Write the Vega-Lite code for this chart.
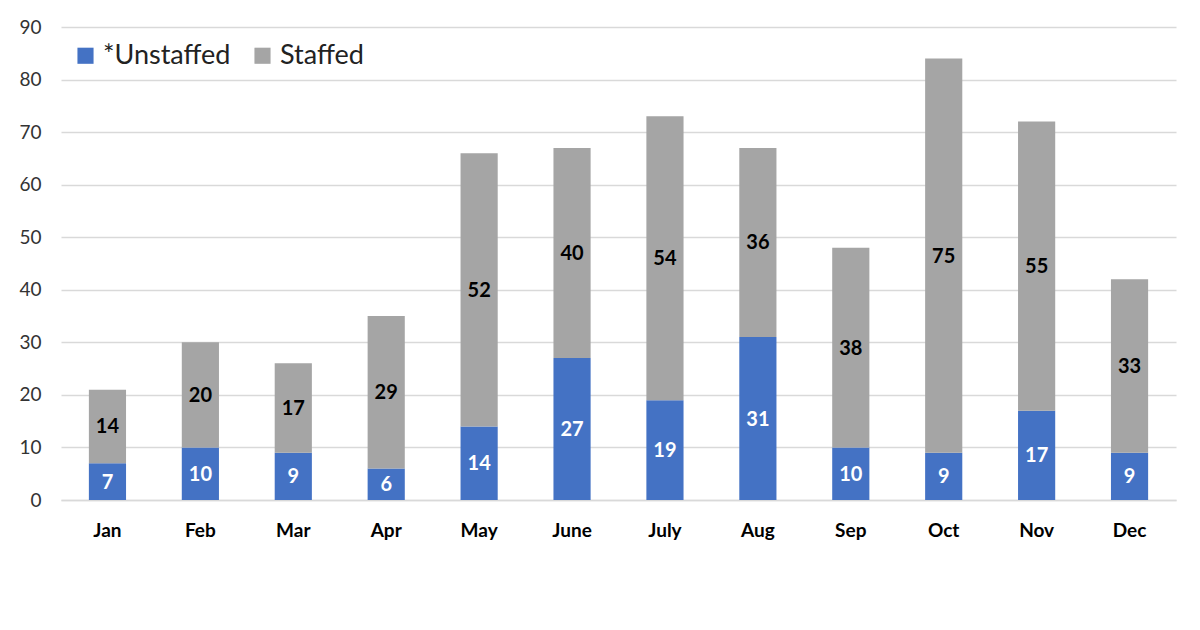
{
  "$schema": "https://vega.github.io/schema/vega-lite/v6.json",
  "autosize": "none",
  "width": 1115,
  "height": 473,
  "padding": {"left": 61, "top": 27, "right": 24, "bottom": 130},
  "background": "white",
  "config": {
    "font": "Lato",
    "view": {"stroke": null},
    "axis": {"labelFont": "Lato", "titleFont": "Lato"}
  },
  "data": {
    "values": [
      {"month": "Jan", "type": "*Unstaffed", "value": 7, "ord": 1},
      {"month": "Jan", "type": "Staffed", "value": 14, "ord": 2},
      {"month": "Feb", "type": "*Unstaffed", "value": 10, "ord": 1},
      {"month": "Feb", "type": "Staffed", "value": 20, "ord": 2},
      {"month": "Mar", "type": "*Unstaffed", "value": 9, "ord": 1},
      {"month": "Mar", "type": "Staffed", "value": 17, "ord": 2},
      {"month": "Apr", "type": "*Unstaffed", "value": 6, "ord": 1},
      {"month": "Apr", "type": "Staffed", "value": 29, "ord": 2},
      {"month": "May", "type": "*Unstaffed", "value": 14, "ord": 1},
      {"month": "May", "type": "Staffed", "value": 52, "ord": 2},
      {"month": "June", "type": "*Unstaffed", "value": 27, "ord": 1},
      {"month": "June", "type": "Staffed", "value": 40, "ord": 2},
      {"month": "July", "type": "*Unstaffed", "value": 19, "ord": 1},
      {"month": "July", "type": "Staffed", "value": 54, "ord": 2},
      {"month": "Aug", "type": "*Unstaffed", "value": 31, "ord": 1},
      {"month": "Aug", "type": "Staffed", "value": 36, "ord": 2},
      {"month": "Sep", "type": "*Unstaffed", "value": 10, "ord": 1},
      {"month": "Sep", "type": "Staffed", "value": 38, "ord": 2},
      {"month": "Oct", "type": "*Unstaffed", "value": 9, "ord": 1},
      {"month": "Oct", "type": "Staffed", "value": 75, "ord": 2},
      {"month": "Nov", "type": "*Unstaffed", "value": 17, "ord": 1},
      {"month": "Nov", "type": "Staffed", "value": 55, "ord": 2},
      {"month": "Dec", "type": "*Unstaffed", "value": 9, "ord": 1},
      {"month": "Dec", "type": "Staffed", "value": 33, "ord": 2}
    ]
  },
  "transform": [
    {"stack": "value", "groupby": ["month"], "sort": [{"field": "ord", "order": "ascending"}], "as": ["v0", "v1"]},
    {"calculate": "(datum.v0 + datum.v1) / 2", "as": "vmid"}
  ],
  "encoding": {
    "x": {
      "field": "month",
      "type": "nominal",
      "sort": null,
      "scale": {"paddingInner": 0.6, "paddingOuter": 0.3},
      "axis": {
        "title": null,
        "labelAngle": 0,
        "labelFontSize": 19,
        "labelFontWeight": "bold",
        "labelColor": "#000000",
        "labelPadding": 21,
        "ticks": false,
        "domain": true,
        "domainColor": "#d9d9d9",
        "domainWidth": 1.5
      }
    }
  },
  "layer": [
    {
      "mark": {"type": "bar"},
      "encoding": {
        "y": {
          "field": "v0",
          "type": "quantitative",
          "scale": {"domain": [0, 90]},
          "axis": {
            "title": null,
            "values": [0, 10, 20, 30, 40, 50, 60, 70, 80, 90],
            "labelFontSize": 19,
            "labelColor": "#333333",
            "labelPadding": 20,
            "ticks": false,
            "domain": false,
            "gridColor": "#d9d9d9",
            "gridWidth": 1.5
          }
        },
        "y2": {"field": "v1"},
        "color": {
          "field": "type",
          "type": "nominal",
          "scale": {"domain": ["*Unstaffed", "Staffed"], "range": ["#4472C4", "#A5A5A5"]},
          "legend": {
            "title": null,
            "orient": "none",
            "legendX": 11,
            "legendY": 15,
            "direction": "horizontal",
            "symbolType": "square",
            "symbolSize": 260,
            "symbolStrokeWidth": 0,
            "labelFontSize": 27,
            "labelColor": "#222222",
            "labelFont": "Lato",
            "columnPadding": 18,
            "labelOffset": 4
          }
        }
      }
    },
    {
      "mark": {"type": "text", "fontSize": 20, "fontWeight": "bold", "baseline": "middle", "align": "center", "dy": 1},
      "encoding": {
        "y": {"field": "vmid", "type": "quantitative"},
        "text": {"field": "value", "type": "quantitative"},
        "fill": {
          "condition": {"test": "datum.type === 'Staffed'", "value": "#000000"},
          "value": "#ffffff"
        }
      }
    }
  ]
}
